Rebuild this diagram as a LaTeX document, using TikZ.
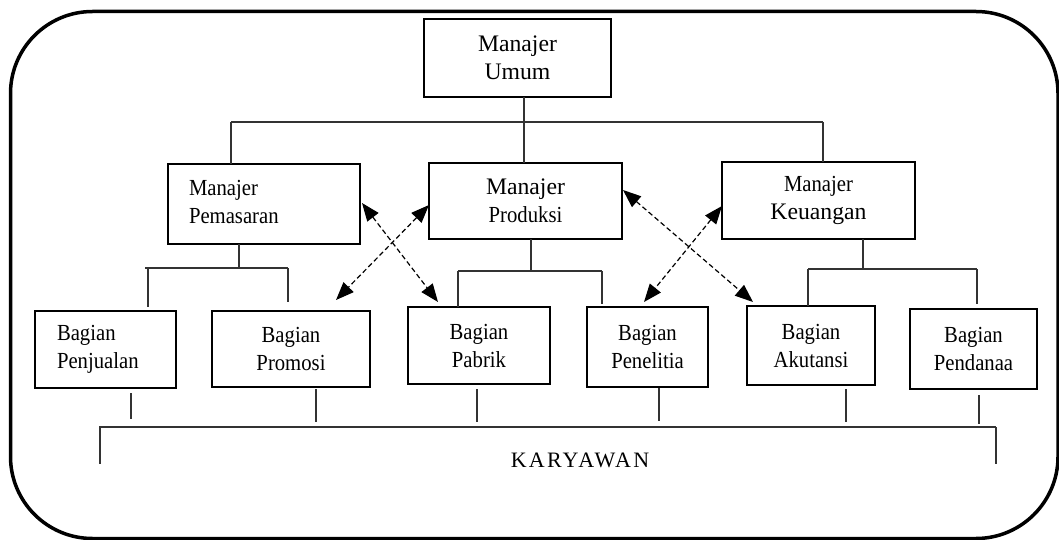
\documentclass[tikz,border=0pt]{standalone}
\usepackage{fontspec}
\setmainfont{Liberation Serif}[FakeStretch=0.9]
\newfontfamily\widefont{Liberation Serif}
\usetikzlibrary{arrows.meta,calc}
\newcommand\smalltxt{\fontsize{23}{28}\selectfont}
\newcommand\bigtxt{\widefont\fontsize{23.7}{28}\selectfont}

\begin{document}
\begin{tikzpicture}[x=1pt,y=-1pt,
  box/.style={draw, line width=2.4pt, inner sep=0pt, outer sep=0pt, anchor=north west,
              align=center, font=\smalltxt},
  lbl/.style={inner sep=0pt, outer sep=0pt, align=left, font=\smalltxt},
  wire/.style={draw=black!80, line width=1.1pt},
  link/.style={line width=1.2pt, dash pattern=on 5pt off 3pt,
               {Triangle[length=18pt,width=14pt]}-{Triangle[length=18pt,width=14pt]}},
  frame/.style={line width=3.5pt, rounded corners=82pt}]

\useasboundingbox (0,0) rectangle (1059,540);

% outer rounded frame
\draw[frame] (10.5,11.5) rectangle (1058,538.5);

% ---- boxes ----
\node[box, minimum width=187pt, minimum height=78pt] (umum) at (424,19)
  {\bigtxt Manajer\\\bigtxt Umum};

\node[box, minimum width=192pt, minimum height=80pt] (pem) at (168,164) {};
\node[lbl, anchor=west] (pemT) at ($(pem.west)+(21,-2)$) {Manajer\\Pemasaran};

\node[box, minimum width=193pt, minimum height=76pt] (prod) at (429,163)
  {\bigtxt Manajer\\\smalltxt Produksi};

\node[box, minimum width=193pt, minimum height=77pt] (keu) at (722,162)
  {\smalltxt Manajer\\\bigtxt Keuangan};

\node[box, minimum width=141pt, minimum height=77pt] (penj) at (35,311) {};
\node[lbl, anchor=west] (penjT) at ($(penj.west)+(22,0)$) {Bagian\\Penjualan};

\node[box, minimum width=158pt, minimum height=76pt] (prom) at (212,311) {Bagian\\Promosi};
\node[box, minimum width=142pt, minimum height=77pt] (pab)  at (408,307) {Bagian\\Pabrik};
\node[box, minimum width=121pt, minimum height=80pt] (pen)  at (587,307) {Bagian\\Penelitia};
\node[box, minimum width=128pt, minimum height=79pt] (aku)  at (747,306) {Bagian\\Akutansi};
\node[box, minimum width=127pt, minimum height=80pt] (pend) at (910,309) {Bagian\\Pendanaa};

\node[font=\widefont\fontsize{22}{26}\selectfont\addfontfeature{LetterSpace=10}, inner sep=0pt]
  (kar) at (580,460) {KARYAWAN};

% ---- top level ----
\coordinate (tL) at (231,122);
\coordinate (tM) at (524,122);
\coordinate (tR) at (823,122);
\draw[wire] (tL) -- (tR);
\draw[wire] (tM |- umum.south) -- (tM |- prod.north);
\draw[wire] (tL) -- (tL |- pem.north);
\draw[wire] (tR) -- (tR |- keu.north);

% ---- marketing branch ----
\coordinate (pJ) at (239,268);
\coordinate (pA) at (145,268);
\coordinate (pL) at (148,268);
\coordinate (pR) at (288,268);
\draw[wire] (pJ |- pem.south) -- (pJ);
\draw[wire] (pA) -- (pR);
\draw[wire, shorten >=4pt] (pL) -- (pL |- penj.north);
\draw[wire, shorten >=9pt] (pR) -- (pR |- prom.north);

% ---- production branch ----
\coordinate (dJ) at (531,271);
\coordinate (dL) at (458,271);
\coordinate (dR) at (602,271);
\draw[wire] (dJ |- prod.south) -- (dJ);
\draw[wire] (dL) -- (dR);
\draw[wire] (dL) -- (dL |- pab.north);
\draw[wire, shorten >=3pt] (dR) -- (dR |- pen.north);

% ---- finance branch ----
\coordinate (kJ) at (863,269);
\coordinate (kL) at (808,269);
\coordinate (kR) at (977,269);
\draw[wire] (kJ |- keu.south) -- (kJ);
\draw[wire] (kL) -- (kR);
\draw[wire] (kL) -- (kL |- aku.north);
\draw[wire, shorten >=5pt] (kR) -- (kR |- pend.north);

% ---- staff bus ----
\coordinate (busL) at (100,427);
\coordinate (busR) at (996,427);
\draw[wire] (99,427) -- (busR);
\draw[wire] (busL) -- ++(0,37);
\draw[wire] (busR) -- ++(0,37);

\coordinate (b1) at (131,427);
\coordinate (b2) at (316,427);
\coordinate (b3) at (477,427);
\coordinate (b4) at (659,427);
\coordinate (b5) at (846,427);
\coordinate (b6) at (979,427);
\draw[wire, shorten <=5pt, shorten >=8pt] (b1 |- penj.south) -- (b1);
\draw[wire, shorten <=2pt, shorten >=5pt] (b2 |- prom.south) -- (b2);
\draw[wire, shorten <=5pt, shorten >=5pt] (b3 |- pab.south) -- (b3);
\draw[wire, shorten <=1pt, shorten >=6pt] (b4 |- pen.south) -- (b4);
\draw[wire, shorten <=4pt, shorten >=5pt] (b5 |- aku.south) -- (b5);
\draw[wire, shorten <=6pt, shorten >=3pt] (b6 |- pend.south) -- (b6);

% ---- coordination links ----
\draw[link] ($(pem.north east)+(2,39)$) -- ($(pab.north west)+(30,-5)$);
\draw[link] ($(prod.north west)+(0,42)$) -- ($(prom.north east)+(-34,-11)$);
\draw[link] ($(prod.north east)+(1,27)$) -- ($(aku.north west)+(6,-4)$);
\draw[link] ($(keu.north west)+(0,44)$) -- ($(pen.north west)+(57,-5)$);

\end{tikzpicture}
\end{document}
